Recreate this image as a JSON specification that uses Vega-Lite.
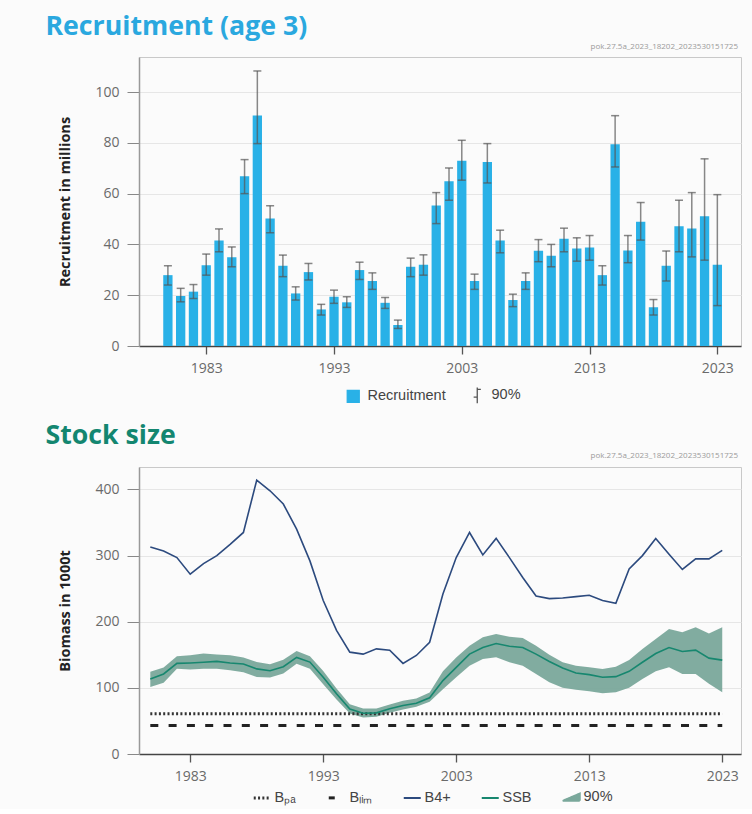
{
  "$schema": "https://vega.github.io/schema/vega-lite/v6.json",
  "background": "#fbfbfb",
  "padding": {"left": 45, "top": 13, "right": 12, "bottom": 4},
  "spacing": 16,
  "datasets": {
    "rec": [
      {"year": 1980, "rec": 27.9, "lo": 24.0, "hi": 31.6},
      {"year": 1981, "rec": 19.7, "lo": 17.4, "hi": 22.7},
      {"year": 1982, "rec": 21.4, "lo": 18.7, "hi": 24.2},
      {"year": 1983, "rec": 31.8, "lo": 27.9, "hi": 36.2},
      {"year": 1984, "rec": 41.5, "lo": 37.1, "hi": 46.1},
      {"year": 1985, "rec": 34.9, "lo": 31.2, "hi": 39.0},
      {"year": 1986, "rec": 66.8, "lo": 60.0, "hi": 73.4},
      {"year": 1987, "rec": 90.8, "lo": 79.7, "hi": 108.3},
      {"year": 1988, "rec": 50.2, "lo": 44.6, "hi": 55.2},
      {"year": 1989, "rec": 31.6, "lo": 27.3, "hi": 35.8},
      {"year": 1990, "rec": 20.7, "lo": 18.1, "hi": 23.3},
      {"year": 1991, "rec": 29.1, "lo": 26.0, "hi": 32.5},
      {"year": 1992, "rec": 14.4, "lo": 12.2, "hi": 16.4},
      {"year": 1993, "rec": 19.4, "lo": 16.8, "hi": 22.0},
      {"year": 1994, "rec": 17.2, "lo": 15.2, "hi": 19.4},
      {"year": 1995, "rec": 29.9, "lo": 26.2, "hi": 33.0},
      {"year": 1996, "rec": 25.6, "lo": 22.3, "hi": 28.8},
      {"year": 1997, "rec": 17.0, "lo": 14.8, "hi": 19.1},
      {"year": 1998, "rec": 8.3, "lo": 6.9, "hi": 10.2},
      {"year": 1999, "rec": 31.2, "lo": 27.3, "hi": 34.6},
      {"year": 2000, "rec": 32.0, "lo": 27.9, "hi": 35.9},
      {"year": 2001, "rec": 55.3, "lo": 48.2, "hi": 60.4},
      {"year": 2002, "rec": 64.9, "lo": 57.4, "hi": 70.1},
      {"year": 2003, "rec": 72.9, "lo": 65.3, "hi": 81.0},
      {"year": 2004, "rec": 25.6, "lo": 22.3, "hi": 28.3},
      {"year": 2005, "rec": 72.5, "lo": 64.2, "hi": 79.7},
      {"year": 2006, "rec": 41.5, "lo": 36.7, "hi": 45.6},
      {"year": 2007, "rec": 18.1, "lo": 15.5, "hi": 20.4},
      {"year": 2008, "rec": 25.6, "lo": 22.3, "hi": 28.8},
      {"year": 2009, "rec": 37.5, "lo": 33.2, "hi": 41.9},
      {"year": 2010, "rec": 35.5, "lo": 31.2, "hi": 40.0},
      {"year": 2011, "rec": 42.2, "lo": 37.1, "hi": 46.4},
      {"year": 2012, "rec": 38.4, "lo": 33.4, "hi": 42.6},
      {"year": 2013, "rec": 38.8, "lo": 33.8, "hi": 43.5},
      {"year": 2014, "rec": 27.9, "lo": 24.0, "hi": 31.6},
      {"year": 2015, "rec": 79.4, "lo": 70.5, "hi": 90.7},
      {"year": 2016, "rec": 37.6, "lo": 32.8, "hi": 43.5},
      {"year": 2017, "rec": 48.9, "lo": 41.7, "hi": 56.5},
      {"year": 2018, "rec": 15.3, "lo": 12.2, "hi": 18.3},
      {"year": 2019, "rec": 31.6, "lo": 25.6, "hi": 37.4},
      {"year": 2020, "rec": 47.2, "lo": 37.1, "hi": 57.4},
      {"year": 2021, "rec": 46.3, "lo": 35.1, "hi": 60.4},
      {"year": 2022, "rec": 51.1, "lo": 33.8, "hi": 73.7},
      {"year": 2023, "rec": 32.0, "lo": 15.9, "hi": 59.6}
    ],
    "stock": [
      {"year": 1980, "b4": 313, "ssb": 113.6, "lo": 101.5, "hi": 124.2},
      {"year": 1981, "b4": 307, "ssb": 121, "lo": 107.6, "hi": 130.7},
      {"year": 1982, "b4": 297, "ssb": 137, "lo": 129, "hi": 147.8},
      {"year": 1983, "b4": 272, "ssb": 137.7, "lo": 127.6, "hi": 149.3},
      {"year": 1984, "b4": 288, "ssb": 138.7, "lo": 129, "hi": 151.8},
      {"year": 1985, "b4": 300, "ssb": 140, "lo": 129, "hi": 150.3},
      {"year": 1986, "b4": 317, "ssb": 137.7, "lo": 126.6, "hi": 149.3},
      {"year": 1987, "b4": 335, "ssb": 136, "lo": 123.6, "hi": 145.8},
      {"year": 1988, "b4": 414, "ssb": 128.7, "lo": 116.6, "hi": 139.2},
      {"year": 1989, "b4": 398, "ssb": 126, "lo": 115.6, "hi": 135.7},
      {"year": 1990, "b4": 378, "ssb": 132, "lo": 121.6, "hi": 142.7},
      {"year": 1991, "b4": 340, "ssb": 146, "lo": 136.6, "hi": 155.8},
      {"year": 1992, "b4": 292, "ssb": 139, "lo": 129, "hi": 147.8},
      {"year": 1993, "b4": 232, "ssb": 116, "lo": 105.6, "hi": 125.7},
      {"year": 1994, "b4": 187, "ssb": 91, "lo": 82.4, "hi": 99},
      {"year": 1995, "b4": 154, "ssb": 68, "lo": 61.3, "hi": 75.4},
      {"year": 1996, "b4": 151, "ssb": 61.6, "lo": 55.2, "hi": 68.8},
      {"year": 1997, "b4": 159, "ssb": 62.2, "lo": 56.2, "hi": 68.8},
      {"year": 1998, "b4": 157, "ssb": 68.3, "lo": 62.3, "hi": 74.9},
      {"year": 1999, "b4": 137, "ssb": 73.3, "lo": 67.3, "hi": 80.4},
      {"year": 2000, "b4": 149, "ssb": 76.8, "lo": 71.3, "hi": 84},
      {"year": 2001, "b4": 169, "ssb": 84.9, "lo": 78.9, "hi": 93},
      {"year": 2002, "b4": 242, "ssb": 111, "lo": 98, "hi": 125},
      {"year": 2003, "b4": 297, "ssb": 131, "lo": 116, "hi": 146},
      {"year": 2004, "b4": 335, "ssb": 151, "lo": 133.6, "hi": 163.8},
      {"year": 2005, "b4": 301, "ssb": 161, "lo": 143.7, "hi": 176.4},
      {"year": 2006, "b4": 326, "ssb": 167, "lo": 146.2, "hi": 181.4},
      {"year": 2007, "b4": 297, "ssb": 163, "lo": 138.7, "hi": 177.4},
      {"year": 2008, "b4": 267, "ssb": 161, "lo": 133.6, "hi": 175.4},
      {"year": 2009, "b4": 239, "ssb": 151, "lo": 121.1, "hi": 163.8},
      {"year": 2010, "b4": 235, "ssb": 140, "lo": 108.6, "hi": 150.2},
      {"year": 2011, "b4": 236, "ssb": 130, "lo": 100, "hi": 138.7},
      {"year": 2012, "b4": 238, "ssb": 122.6, "lo": 97, "hi": 133.6},
      {"year": 2013, "b4": 240, "ssb": 120, "lo": 95, "hi": 131.1},
      {"year": 2014, "b4": 232, "ssb": 116, "lo": 92, "hi": 128.6},
      {"year": 2015, "b4": 228, "ssb": 117, "lo": 93.5, "hi": 132.1},
      {"year": 2016, "b4": 280, "ssb": 125, "lo": 100, "hi": 142.2},
      {"year": 2017, "b4": 300, "ssb": 138.7, "lo": 113.6, "hi": 158.8},
      {"year": 2018, "b4": 326, "ssb": 152, "lo": 125.1, "hi": 173.9},
      {"year": 2019, "b4": 302, "ssb": 161, "lo": 131.1, "hi": 189},
      {"year": 2020, "b4": 279, "ssb": 155, "lo": 121.1, "hi": 184},
      {"year": 2021, "b4": 295, "ssb": 157, "lo": 121.1, "hi": 191.5},
      {"year": 2022, "b4": 295, "ssb": 145, "lo": 106.1, "hi": 182.4},
      {"year": 2023, "b4": 308, "ssb": 142, "lo": 93.5, "hi": 191.5}
    ],
    "refs": [
      {"series": "Bpa", "start": 1980, "end": 2023, "value": 61},
      {"series": "Blim", "start": 1980, "end": 2023, "value": 43}
    ]
  },
  "resolve": {
    "scale": {"x": "independent", "y": "independent", "color": "independent"},
    "legend": {"color": "independent"}
  },
  "vconcat": [
    {
      "title": {"text": "Recruitment (age 3)", "anchor": "start", "frame": "bounds", "fontSize": 26.7, "font": "Open Sans", "fontWeight": "bold", "color": "#2aa8df", "offset": 2, "dx": -12},
      "vconcat": [
        {
          "title": {"text": "pok.27.5a_2023_18202_2023530151725", "anchor": "end", "frame": "group", "fontSize": 8, "font": "Open Sans", "fontWeight": "normal", "color": "#9a9a9a", "offset": 6, "dx": -3},
          "width": 602,
          "height": 289,
          "data": {"name": "rec"},
          "layer": [
            {
              "mark": {"type": "bar", "width": 9.3},
              "encoding": {
                "x": {"field": "year", "type": "quantitative", "scale": {"domain": [1978.13, 2024.46], "nice": false, "zero": false},
                  "axis": {"values": [1983, 1993, 2003, 2013, 2023], "format": "d", "title": null, "grid": false, "tickSize": 8, "labelPadding": 7, "tickWidth": 1.3, "tickColor": "#555", "domainColor": "#444"}},
                "y": {"field": "rec", "type": "quantitative", "scale": {"domain": [0, 113.8], "nice": false},
                  "axis": {"values": [0, 20, 40, 60, 80, 100], "title": "Recruitment in millions", "grid": true, "tickSize": 12, "labelPadding": 8, "titlePadding": 22, "domainColor": "#999"}},
                "color": {"datum": "Recruitment", "scale": {"domain": ["Recruitment", "90%"], "range": ["#29b1e7", "#555555"]},
                  "legend": {"title": "\u00a0", "titleOrient": "left", "titlePadding": 68, "titleFontSize": 10, "orient": "bottom", "direction": "horizontal", "symbolSize": 144, "labelOffset": 7, "columnPadding": 24, "offset": 12,
                    "encode": {"symbols": {"update": {
                      "shape": {"signal": "datum.value === '90%' ? 'M0,-1.3L0,1.3M0,-1L0.6,-1M-0.6,0.3L0,0.3' : 'square'"},
                      "fill": {"signal": "datum.value === '90%' ? 'transparent' : '#29b1e7'"},
                      "stroke": {"signal": "datum.value === '90%' ? '#666666' : 'transparent'"},
                      "strokeWidth": {"value": 1.3},
                      "opacity": {"value": 1}
                    }}}}}
              }
            },
            {
              "mark": {"type": "rule", "strokeWidth": 1.5, "opacity": 0.7},
              "encoding": {
                "x": {"field": "year", "type": "quantitative"},
                "y": {"field": "lo", "type": "quantitative"},
                "y2": {"field": "hi"},
                "color": {"datum": "90%"}
              }
            },
            {
              "mark": {"type": "tick", "orient": "horizontal", "size": 8, "thickness": 1.5, "opacity": 0.7},
              "encoding": {
                "x": {"field": "year", "type": "quantitative"},
                "y": {"field": "hi", "type": "quantitative"},
                "color": {"datum": "90%"}
              }
            },
            {
              "mark": {"type": "tick", "orient": "horizontal", "size": 8, "thickness": 1.5, "opacity": 0.7},
              "encoding": {
                "x": {"field": "year", "type": "quantitative"},
                "y": {"field": "lo", "type": "quantitative"},
                "color": {"datum": "90%"}
              }
            }
          ]
        }
      ]
    },
    {
      "title": {"text": "Stock size", "anchor": "start", "frame": "bounds", "fontSize": 26.7, "font": "Open Sans", "fontWeight": "bold", "color": "#138670", "offset": 2, "dx": -12},
      "vconcat": [
        {
          "title": {"text": "pok.27.5a_2023_18202_2023530151725", "anchor": "end", "frame": "group", "fontSize": 8, "font": "Open Sans", "fontWeight": "normal", "color": "#9a9a9a", "offset": 7, "dx": -3},
          "width": 602,
          "height": 287,
          "layer": [
            {
              "data": {"name": "stock"},
              "mark": {"type": "area", "opacity": 0.95},
              "encoding": {
                "x": {"field": "year", "type": "quantitative", "scale": {"domain": [1979.15, 2024.41], "nice": false, "zero": false},
                  "axis": {"values": [1983, 1993, 2003, 2013, 2023], "format": "d", "title": null, "grid": false, "tickSize": 8, "labelPadding": 7, "tickWidth": 1.3, "tickColor": "#555", "domainColor": "#444"}},
                "y": {"field": "lo", "type": "quantitative", "scale": {"domain": [0, 434], "nice": false},
                  "axis": {"values": [0, 100, 200, 300, 400], "title": "Biomass in 1000t", "grid": true, "tickSize": 12, "labelPadding": 8, "titlePadding": 22, "domainColor": "#999"}},
                "y2": {"field": "hi"},
                "color": {"datum": "90%", "scale": {"domain": ["Bpa", "Blim", "B4+", "SSB", "90%"], "range": ["#333333", "#222222", "#2c4a7e", "#17876f", "#7aa89b"]},
                  "legend": {"title": "\u00a0", "titleOrient": "left", "titlePadding": 70, "titleFontSize": 10, "orient": "bottom", "direction": "horizontal", "symbolSize": 289, "labelOffset": 5, "columnPadding": 26, "offset": 6,
                    "labelExpr": "datum.label === 'Bpa' ? 'Bₚₐ' : datum.label === 'Blim' ? 'Bₗᵢₘ' : datum.label",
                    "encode": {"symbols": {"update": {
                      "shape": {"signal": "datum.value === '90%' ? 'M-1,0.4L1,0.4L1,-0.45Z' : 'stroke'"},
                      "fill": {"signal": "datum.value === '90%' ? '#7aa89b' : 'transparent'"},
                      "stroke": {"signal": "datum.value === 'B4+' ? '#2c4a7e' : datum.value === 'SSB' ? '#17876f' : datum.value === '90%' ? 'transparent' : '#222222'"},
                      "strokeDash": {"signal": "datum.value === 'Bpa' ? [2, 2.3] : datum.value === 'Blim' ? [6, 40] : [1, 0]"},
                      "strokeWidth": {"signal": "datum.value === 'Bpa' || datum.value === 'Blim' ? 3 : 2"},
                      "opacity": {"value": 1}
                    }}}}}
              }
            },
            {
              "data": {"name": "refs"},
              "mark": {"type": "rule", "strokeWidth": 3},
              "encoding": {
                "x": {"field": "start", "type": "quantitative"},
                "x2": {"field": "end"},
                "y": {"field": "value", "type": "quantitative"},
                "color": {"field": "series", "type": "nominal",
                  "legend": {"title": "\u00a0", "titleOrient": "left", "titlePadding": 70, "titleFontSize": 10, "orient": "bottom", "direction": "horizontal", "symbolSize": 289, "labelOffset": 5, "columnPadding": 26, "offset": 6,
                    "labelExpr": "datum.label === 'Bpa' ? 'Bₚₐ' : datum.label === 'Blim' ? 'Bₗᵢₘ' : datum.label",
                    "encode": {"symbols": {"update": {
                      "shape": {"signal": "datum.value === '90%' ? 'M-1,0.4L1,0.4L1,-0.45Z' : 'stroke'"},
                      "fill": {"signal": "datum.value === '90%' ? '#7aa89b' : 'transparent'"},
                      "stroke": {"signal": "datum.value === 'B4+' ? '#2c4a7e' : datum.value === 'SSB' ? '#17876f' : datum.value === '90%' ? 'transparent' : '#222222'"},
                      "strokeDash": {"signal": "datum.value === 'Bpa' ? [2, 2.3] : datum.value === 'Blim' ? [6, 40] : [1, 0]"},
                      "strokeWidth": {"signal": "datum.value === 'Bpa' || datum.value === 'Blim' ? 3 : 2"},
                      "opacity": {"value": 1}
                    }}}}},
                "strokeDash": {"field": "series", "type": "nominal", "scale": {"domain": ["Bpa", "Blim"], "range": [[2, 2.3], [8, 10.3]]}, "legend": null}
              }
            },
            {
              "data": {"name": "stock"},
              "mark": {"type": "line", "strokeWidth": 1.6},
              "encoding": {
                "x": {"field": "year", "type": "quantitative"},
                "y": {"field": "ssb", "type": "quantitative"},
                "color": {"datum": "SSB"}
              }
            },
            {
              "data": {"name": "stock"},
              "mark": {"type": "line", "strokeWidth": 1.6},
              "encoding": {
                "x": {"field": "year", "type": "quantitative"},
                "y": {"field": "b4", "type": "quantitative"},
                "color": {"datum": "B4+"}
              }
            }
          ]
        }
      ]
    }
  ],
  "config": {
    "font": "Open Sans",
    "view": {"stroke": "#c9c9c9", "strokeWidth": 1},
    "axis": {"labelFont": "Open Sans", "labelFontSize": 14, "labelColor": "#6a6a6a", "titleFont": "Open Sans", "titleFontSize": 14.5, "titleFontWeight": "bold", "titleColor": "#222222", "domainWidth": 1.5, "tickColor": "#888888", "gridColor": "#e6e6e6"},
    "legend": {"labelFont": "Liberation Sans", "labelFontSize": 14.5, "labelColor": "#444444", "layout": {"bottom": {"anchor": "middle"}}}
  }
}
